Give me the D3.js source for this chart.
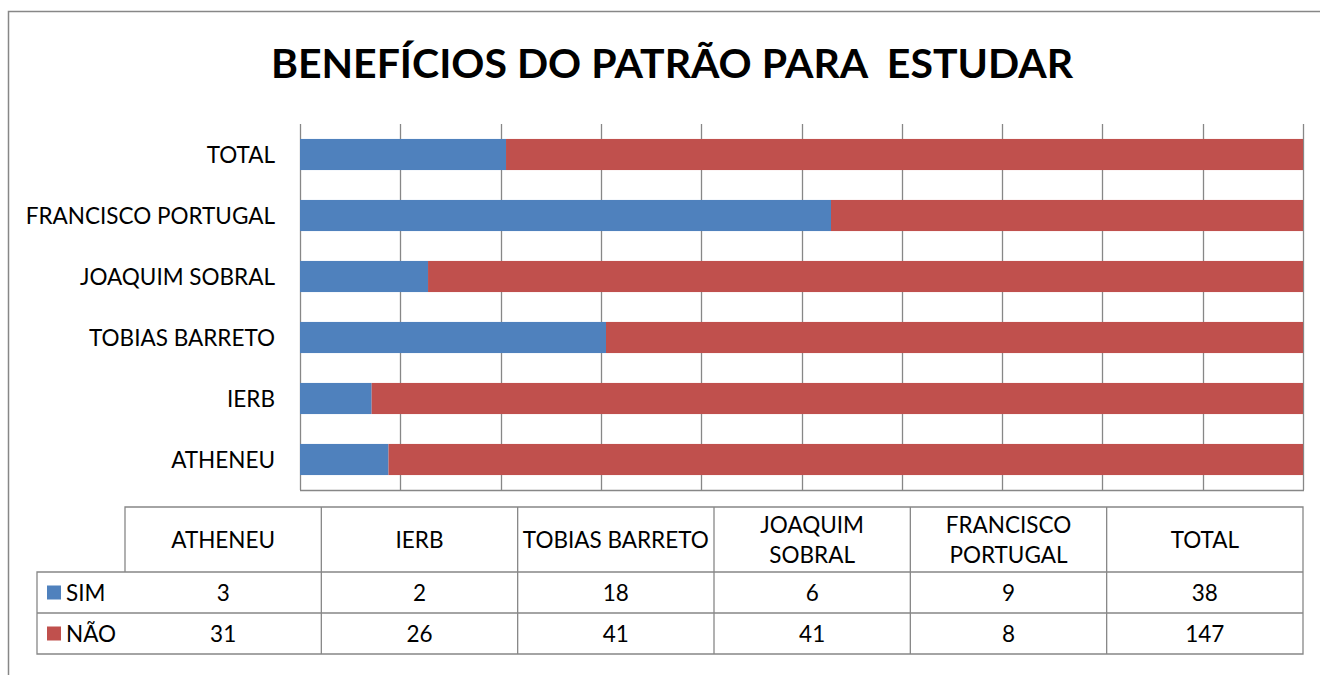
<!DOCTYPE html>
<html>
<head>
<meta charset="utf-8">
<script src="https://cdn.jsdelivr.net/npm/d3@7"></script>
<style>
  body { margin: 0; background: #fff; }
  svg { display: block; font-family: Lato, Carlito, Calibri, sans-serif; }
</style>
</head>
<body>
<svg width="1320" height="675"></svg>
<script>
const svg = d3.select('svg');

// data
const categories = ['ATHENEU', 'IERB', 'TOBIAS BARRETO', 'JOAQUIM SOBRAL', 'FRANCISCO PORTUGAL', 'TOTAL'];
const headerLabels = ['ATHENEU', 'IERB', 'TOBIAS BARRETO', 'JOAQUIM\nSOBRAL', 'FRANCISCO\nPORTUGAL', 'TOTAL'];
const simValues = [3, 2, 18, 6, 9, 38];
const naoValues = [31, 26, 41, 41, 8, 147];
const seriesNames = ['SIM', 'NÃO'];
const seriesColors = ['#4F81BD', '#C0504D'];
const title = 'BENEFÍCIOS DO PATRÃO PARA  ESTUDAR';

const rows = categories.map((c, i) => ({cat: c, SIM: simValues[i], 'NÃO': naoValues[i]}));
const color = d3.scaleOrdinal(seriesNames, seriesColors);

const lineColor = '#878787';
const fontSize = 22.5;
const plot = {left: 300, right: 1303, top: 124, bottom: 490};

// outer frame (only left + top are visible)
svg.append('path')
  .attr('d', 'M8.5,675 L8.5,11.5 L1320,11.5')
  .attr('fill', 'none')
  .attr('stroke', lineColor)
  .attr('stroke-width', 1.5);

svg.append('text')
  .attr('x', 672)
  .attr('y', 78)
  .attr('text-anchor', 'middle')
  .attr('font-size', 41)
  .attr('font-weight', 'bold')
  .style('white-space', 'pre')
  .text(title);

const x = d3.scaleLinear().domain([0, 1]).range([plot.left, plot.right]);
const y = d3.scaleBand()
  .domain(categories.slice().reverse())
  .range([plot.top, plot.bottom])
  .paddingInner(0.49)
  .paddingOuter(0.245);

// gridlines
svg.append('g')
  .selectAll('line')
  .data(x.ticks(10))
  .join('line')
    .attr('x1', d => Math.round(x(d)) + 0.5)
    .attr('x2', d => Math.round(x(d)) + 0.5)
    .attr('y1', plot.top)
    .attr('y2', plot.bottom)
    .attr('stroke', lineColor)
    .attr('stroke-width', 1.3);

svg.append('line')
  .attr('x1', plot.left).attr('x2', plot.right + 1)
  .attr('y1', plot.bottom + 0.5).attr('y2', plot.bottom + 0.5)
  .attr('stroke', lineColor)
  .attr('stroke-width', 1.3);

// stacked 100% bars
const stacked = d3.stack().keys(seriesNames).offset(d3.stackOffsetExpand)(rows);

svg.append('g')
  .selectAll('g')
  .data(stacked)
  .join('g')
    .attr('fill', d => color(d.key))
  .selectAll('rect')
  .data(d => d)
  .join('rect')
    .attr('x', d => x(d[0]))
    .attr('width', d => x(d[1]) - x(d[0]))
    .attr('y', d => y(d.data.cat))
    .attr('height', y.bandwidth());

// category labels
svg.append('g')
  .selectAll('text')
  .data(categories)
  .join('text')
    .attr('x', 275)
    .attr('y', d => y(d) + y.bandwidth() / 2 + 8)
    .attr('text-anchor', 'end')
    .attr('font-size', fontSize)
    .attr('fill', '#000')
    .text(d => d);

// data table
const table = {left: 37, keyRight: 125, right: 1303, top: 507, header: 572, row1: 613, bottom: 654};
const col = d3.scaleBand().domain(categories).range([table.keyRight, table.right]);
const tg = svg.append('g')
  .attr('stroke', lineColor)
  .attr('stroke-width', 1.3)
  .attr('fill', 'none');

tg.append('path')
  .attr('d', `M${table.keyRight},${table.header} L${table.keyRight},${table.top} L${table.right},${table.top} L${table.right},${table.bottom}
    L${table.left},${table.bottom} L${table.left},${table.header} L${table.right},${table.header}
    M${table.left},${table.row1} L${table.right},${table.row1}`);
tg.selectAll('line.col')
  .data(categories.slice(1))
  .join('line')
    .attr('class', 'col')
    .attr('x1', d => col(d)).attr('x2', d => col(d))
    .attr('y1', table.top).attr('y2', table.bottom);

const headerText = svg.append('g')
  .selectAll('text')
  .data(headerLabels)
  .join('text')
    .attr('text-anchor', 'middle')
    .attr('font-size', fontSize)
    .attr('fill', '#000');
headerText.each(function(d, i) {
  const lines = d.split('\n');
  const cx = col(categories[i]) + col.bandwidth() / 2;
  const mid = (table.top + table.header) / 2 + 8;
  d3.select(this).selectAll('tspan')
    .data(lines)
    .join('tspan')
      .attr('x', cx)
      .attr('y', (l, j) => mid + (j - (lines.length - 1) / 2) * 30)
      .text(l => l);
});

const valueRows = [simValues, naoValues];
const rowMids = [(table.header + table.row1) / 2, (table.row1 + table.bottom) / 2];

valueRows.forEach((vals, r) => {
  svg.append('g')
    .selectAll('text')
    .data(vals)
    .join('text')
      .attr('x', (v, i) => col(categories[i]) + col.bandwidth() / 2)
      .attr('y', rowMids[r] + 8)
      .attr('text-anchor', 'middle')
      .attr('font-size', fontSize)
      .text(v => v);

  svg.append('rect')
    .attr('x', 47)
    .attr('y', rowMids[r] - 7)
    .attr('width', 14)
    .attr('height', 14)
    .attr('fill', seriesColors[r]);

  svg.append('text')
    .attr('x', 66)
    .attr('y', rowMids[r] + 8)
    .attr('font-size', fontSize)
    .text(seriesNames[r]);
});
</script>
</body>
</html>
